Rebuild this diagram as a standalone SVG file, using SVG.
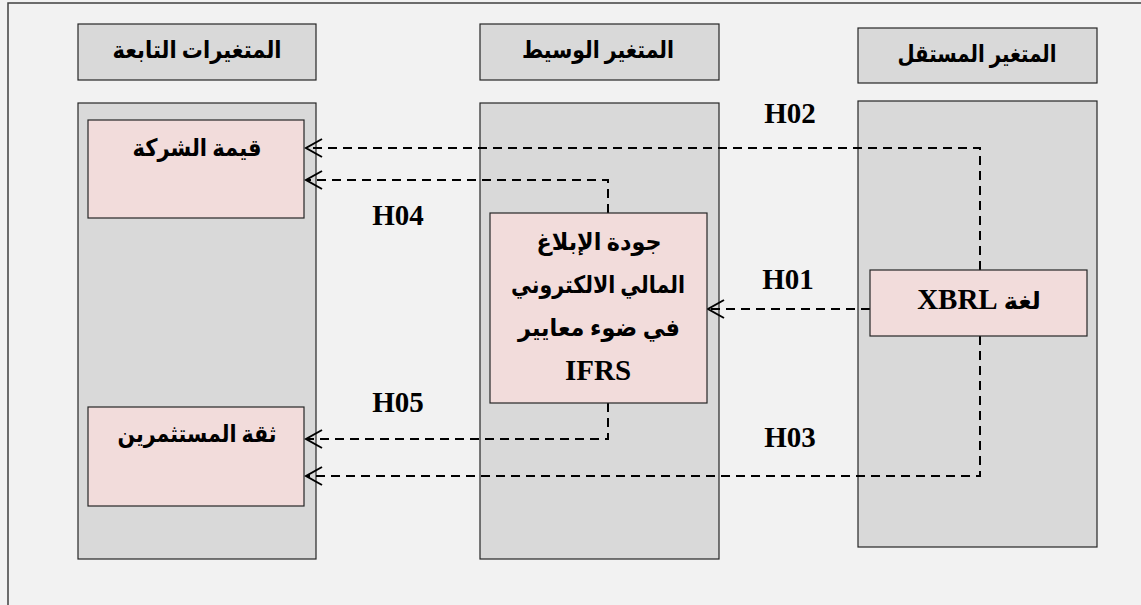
<svg xmlns="http://www.w3.org/2000/svg" width="1141" height="605" viewBox="0 0 1141 605">
  <style>
    .frame { stroke: #404040; stroke-width: 1.5; fill: none; }
    .head { fill: #d9d9d9; stroke: #262626; stroke-width: 1.2; }
    .col { fill: #d9d9d9; stroke: #262626; stroke-width: 1.2; }
    .var { fill: #f2dcdb; stroke: #262626; stroke-width: 1.2; }
    .ar { font-family: "Liberation Serif", "DejaVu Sans", serif; font-weight: bold; fill: #000; text-anchor: middle; direction: rtl; unicode-bidi: embed; }
    .hd { font-size: 24px; }
    .lb { font-size: 24px; }
    .hyp { font-family: "Liberation Serif", serif; font-weight: bold; font-size: 29px; fill: #000; text-anchor: middle; }
    .link { fill: none; stroke: #000; stroke-width: 2; stroke-dasharray: 9 6; }
  </style>
  <defs>
    <!-- open chevron pointing along the path direction -->
    <marker id="open-arrow" markerWidth="20" markerHeight="22" refX="18" refY="11" orient="auto" markerUnits="userSpaceOnUse">
      <path d="M2,2 L18,11 L2,20" fill="none" stroke="#000" stroke-width="2"/>
    </marker>
  </defs>

  <!-- page background and frame -->
  <rect x="0" y="0" width="1141" height="605" fill="#f2f2f2"/>
  <path class="frame" d="M8,605 L8,3 L1141,3"/>

  <!-- column headers -->
  <g id="header-dependent">
    <rect class="head" x="78" y="24" width="238" height="56"/>
    <text class="ar hd" x="197" y="58" textLength="169" lengthAdjust="spacingAndGlyphs">المتغيرات التابعة</text>
  </g>
  <g id="header-mediator">
    <rect class="head" x="480" y="24" width="239" height="56"/>
    <text class="ar hd" x="598" y="58" textLength="152" lengthAdjust="spacingAndGlyphs">المتغير الوسيط</text>
  </g>
  <g id="header-independent">
    <rect class="head" x="858" y="28" width="239" height="55"/>
    <text class="ar hd" x="977" y="62" textLength="159" lengthAdjust="spacingAndGlyphs">المتغير المستقل</text>
  </g>

  <!-- column panels -->
  <g id="column-dependent">
    <rect class="col" x="78" y="103" width="238" height="456"/>
  </g>
  <g id="column-mediator">
    <rect class="col" x="480" y="103" width="239" height="456"/>
  </g>
  <g id="column-independent">
    <rect class="col" x="858" y="101" width="239" height="446"/>
  </g>

  <!-- connectors -->
  <g id="connectors">
    <path id="h02" class="link" d="M980,270 L980,148 L306,148" marker-end="url(#open-arrow)"/>
    <path id="h04" class="link" d="M608,213 L608,180 L306,180" marker-end="url(#open-arrow)"/>
    <path id="h01" class="link" d="M870,309 L708,309" marker-end="url(#open-arrow)"/>
    <path id="h05" class="link" d="M608,403 L608,439 L306,439" marker-end="url(#open-arrow)"/>
    <path id="h03" class="link" d="M980,336 L980,476 L306,476" marker-end="url(#open-arrow)"/>
  </g>

  <!-- variables -->
  <g id="firm-value">
    <rect class="var" x="88" y="120" width="216" height="98"/>
    <text class="ar lb" x="197" y="156" textLength="129" lengthAdjust="spacingAndGlyphs">قيمة الشركة</text>
  </g>
  <g id="investor-trust">
    <rect class="var" x="88" y="407" width="216" height="99"/>
    <text class="ar lb" x="197" y="442" textLength="159" lengthAdjust="spacingAndGlyphs">ثقة المستثمرين</text>
  </g>
  <g id="reporting-quality">
    <rect class="var" x="490" y="213" width="217" height="190"/>
    <text class="ar lb" x="599" y="250" textLength="125" lengthAdjust="spacingAndGlyphs">جودة الإبلاغ</text>
    <text class="ar lb" x="598" y="293" textLength="174" lengthAdjust="spacingAndGlyphs">المالي الالكتروني</text>
    <text class="ar lb" x="599" y="336" textLength="162" lengthAdjust="spacingAndGlyphs">في ضوء معايير</text>
    <text class="hyp" x="598" y="380">IFRS</text>
  </g>
  <g id="xbrl">
    <rect class="var" x="870" y="270" width="217" height="66"/>
    <text class="ar lb" x="979" y="309">لغة <tspan class="hyp" style="font-size:29px">XBRL</tspan></text>
  </g>

  <!-- hypothesis labels -->
  <g id="labels">
    <text class="hyp" x="790" y="123">H02</text>
    <text class="hyp" x="398" y="225">H04</text>
    <text class="hyp" x="788" y="289">H01</text>
    <text class="hyp" x="398" y="412">H05</text>
    <text class="hyp" x="790" y="447">H03</text>
  </g>
</svg>
